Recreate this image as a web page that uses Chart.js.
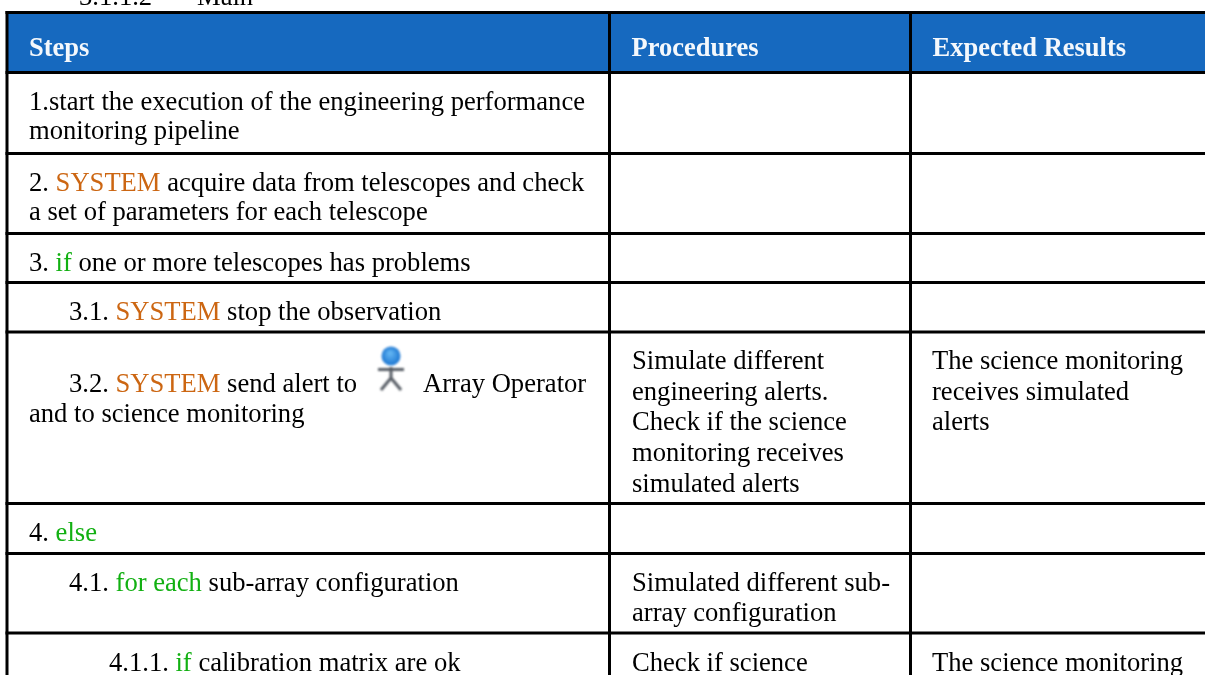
<!DOCTYPE html>
<html><head><meta charset="utf-8">
<style>html,body{margin:0;padding:0;background:#fff;overflow:hidden}#c{display:block}</style>
<script src="https://cdn.jsdelivr.net/npm/chart.js@4"></script></head>
<body><canvas id="c" width="1205" height="675" style="width:1205px;height:675px"></canvas>
<script>
const columnEdges=[7,609.5,910.5,1205];
const rowEdges=[12.5,72.5,153.5,233.5,282.5,332,503.5,553.5,633,675];
const columnNames=['Steps','Procedures','Expected Results'];
const O='#cc6612',G='#12b012',K='#000000';
const stepRuns=[
 {x:29,y:110,runs:[['1.start the execution of the engineering performance',K]]},
 {x:29,y:139,runs:[['monitoring pipeline',K]]},
 {x:29,y:190.5,runs:[['2. ',K],['SYSTEM',O],[' acquire data from telescopes and check',K]]},
 {x:29,y:220,runs:[['a set of parameters for each telescope',K]]},
 {x:29,y:270.5,runs:[['3. ',K],['if',G],[' one or more telescopes has problems',K]]},
 {x:69,y:319.5,runs:[['3.1. ',K],['SYSTEM',O],[' stop the observation',K]]},
 {x:69,y:391.5,runs:[['3.2. ',K],['SYSTEM',O],[' send alert to',K]]},
 {x:423,y:391.5,runs:[['Array Operator',K]]},
 {x:29,y:422,runs:[['and to science monitoring',K]]},
 {x:29,y:540.5,runs:[['4. ',K],['else',G]]},
 {x:69,y:590.5,runs:[['4.1. ',K],['for each',G],[' sub-array configuration',K]]},
 {x:109,y:670.5,runs:[['4.1.1. ',K],['if',G],[' calibration matrix are ok',K]]}
];
const procedureLines=[[632,368.5,'Simulate different'],[632,399.5,'engineering alerts.'],[632,429.5,'Check if the science'],[632,460.5,'monitoring receives'],[632,491.5,'simulated alerts'],[632,590.5,'Simulated different sub-'],[632,620.5,'array configuration'],[632,670.5,'Check if science']];
const resultLines=[[932,368.5,'The science monitoring'],[932,399.5,'receives simulated'],[932,430,'alerts'],[932,670.5,'The science monitoring']];
const captionRuns=[[79,5,'3.1.1.2'],[197,5,'Main']];
const iconAnchor={x:391,y:367};

const W=1205,H=675;
const rule=(pts)=>({type:'line',data:pts,borderColor:'#000',borderWidth:3,pointRadius:0,borderCapStyle:'square',fill:false,order:1});
const datasets=[{type:'line',data:[{x:columnEdges[0],y:rowEdges[0]},{x:columnEdges[3],y:rowEdges[0]}],borderWidth:0,pointRadius:0,backgroundColor:'#1669bf',fill:{value:rowEdges[1]},order:3}];
rowEdges.slice(0,-1).forEach(y=>datasets.push(rule([{x:columnEdges[0],y},{x:columnEdges[3],y}])));
columnEdges.slice(0,-1).forEach(x=>datasets.push(rule([{x,y:rowEdges[0]},{x,y:rowEdges[rowEdges.length-1]}])));

const tablePlugin={id:'tableText',afterDatasetsDraw(ch){
 const c=ch.ctx,xs=ch.scales.x,ys=ch.scales.y;
 const px=v=>xs.getPixelForValue(v),py=v=>ys.getPixelForValue(v);
 c.save();c.textBaseline='alphabetic';c.textAlign='left';
 c.filter='blur(0.3px)';
 c.font='bold 26.5px "Liberation Serif"';c.fillStyle='#f4f8fc';
 columnNames.forEach((n,i)=>c.fillText(n,px(columnEdges[i]+22),py(55.5)));
 c.font='26.6px "Liberation Serif"';
 stepRuns.forEach(l=>{let x=px(l.x);l.runs.forEach(r=>{c.fillStyle=r[1];c.fillText(r[0],x,py(l.y));x+=c.measureText(r[0]).width;});});
 c.fillStyle='#000';
 captionRuns.forEach(r=>c.fillText(r[2],px(r[0]),py(r[1])));
 procedureLines.concat(resultLines).forEach(l=>c.fillText(l[2],px(l[0]),py(l[1])));
 const ax=px(iconAnchor.x),ay=py(iconAnchor.y);
 c.filter='blur(0.8px)';
 c.strokeStyle='#565c64';c.lineWidth=3;c.lineCap='butt';
 c.beginPath();c.moveTo(ax-13,ay+2.5);c.lineTo(ax+13,ay+2.5);c.moveTo(ax,ay);c.lineTo(ax,ay+11);c.lineTo(ax-10,ay+23);c.moveTo(ax,ay+11);c.lineTo(ax+10,ay+23);c.stroke();
 const g=c.createRadialGradient(ax-1,ay-14,1,ax,ay-11,10);g.addColorStop(0,'#62b4f2');g.addColorStop(1,'#1a74d0');
 c.fillStyle=g;c.beginPath();c.arc(ax,ay-11,9.5,0,7);c.fill();
 c.restore();
}};
new Chart(document.getElementById('c'),{type:'scatter',data:{datasets},plugins:[tablePlugin],options:{
 responsive:false,animation:false,devicePixelRatio:1,layout:{padding:0},
 plugins:{legend:{display:false},tooltip:{enabled:false},title:{display:false}},
 scales:{x:{type:'linear',min:0,max:W,display:false},y:{type:'linear',reverse:true,min:0,max:H,display:false}}
}});
</script></body></html>
